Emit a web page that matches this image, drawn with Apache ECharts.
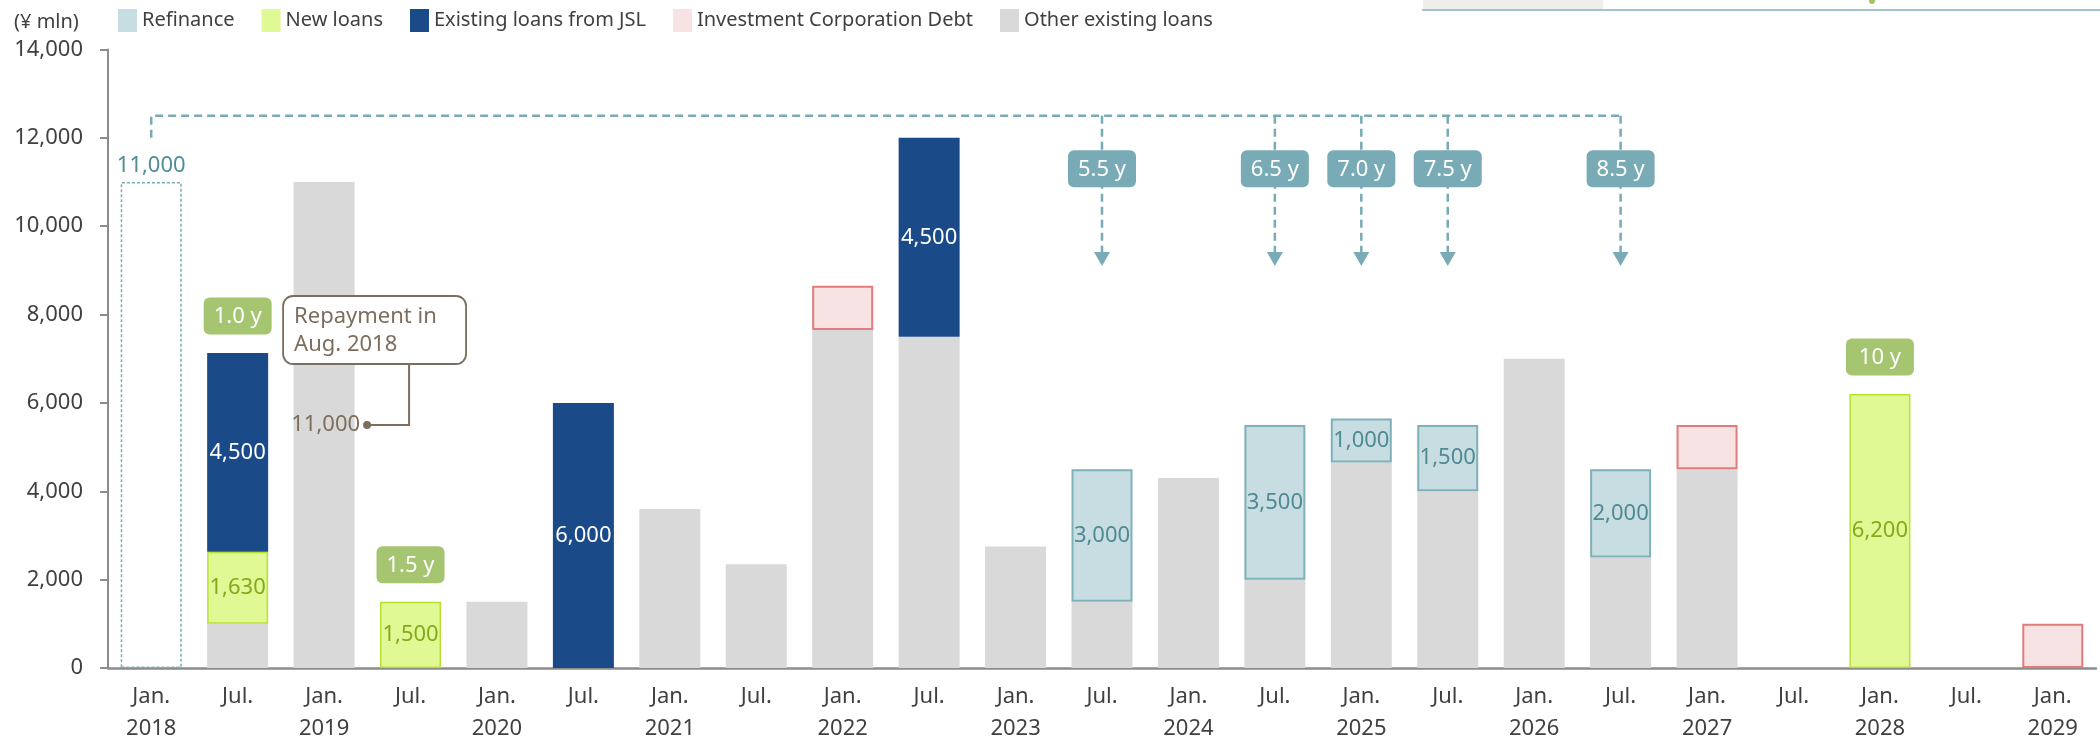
<!DOCTYPE html>
<html>
<head>
<meta charset="utf-8">
<script src="https://cdn.jsdelivr.net/npm/echarts/dist/echarts.min.js"></script>
<style>
  html, body { margin: 0; padding: 0; background: #fff; }
  #chart { width: 2100px; height: 745px; }
</style>
</head>
<body>
<div id="chart"></div>
<script>
// Debt maturity ladder (¥ mln), half-year buckets
const categories = [
  'Jan.\n2018', 'Jul.', 'Jan.\n2019', 'Jul.', 'Jan.\n2020', 'Jul.', 'Jan.\n2021', 'Jul.',
  'Jan.\n2022', 'Jul.', 'Jan.\n2023', 'Jul.', 'Jan.\n2024', 'Jul.', 'Jan.\n2025', 'Jul.',
  'Jan.\n2026', 'Jul.', 'Jan.\n2027', 'Jul.', 'Jan.\n2028', 'Jul.', 'Jan.\n2029'
];
const repaidAug2018 = [11000, null, null, null, null, null, null, null, null, null, null, null,
  null, null, null, null, null, null, null, null, null, null, null];
const otherLoans = [null, 1000, 11000, null, 1500, null, 3600, 2350, 7650, 7500, 2750, 1500,
  4300, 2000, 4650, 4000, 7000, 2500, 4500, null, null, null, null];
const newLoans = [null, 1630, null, 1500, null, null, null, null, null, null, null, null,
  null, null, null, null, null, null, null, null, 6200, null, null];
const jslLoans = [null, 4500, null, null, null, 6000, null, null, null, 4500, null, null,
  null, null, null, null, null, null, null, null, null, null, null];
const refinance = [null, null, null, null, null, null, null, null, null, null, null, 3000,
  null, 3500, 1000, 1500, null, 2000, null, null, null, null, null];
const corpDebt = [null, null, null, null, null, null, null, null, 1000, null, null, null,
  null, null, null, null, null, null, 1000, null, null, null, 1000];
const yTicks = { min: 0, max: 14000, step: 2000 };

// Loan terms: new borrowings and refinanced tranches
const newLoanTerms = [[1, '1.0 y'], [3, '1.5 y'], [20, '10 y']];
const refinanceTerms = [[11, '5.5 y'], [13, '6.5 y'], [14, '7.0 y'], [15, '7.5 y'], [17, '8.5 y']];
const repaymentNote = 'Repayment in\nAug. 2018';

const FONT = '"Noto Sans", "DejaVu Sans", sans-serif';
const TEAL = '#78abb6';
const GREEN_BADGE = '#a5c571';
const BROWN = '#7d6d5d';
const fmt = v => Number(v).toLocaleString('en-US');

const labelInside = color => ({
  show: true, position: 'inside', color, fontSize: 22, fontFamily: FONT,
  formatter: p => (p.value == null ? '' : fmt(p.value))
});

const option = {
  animation: false,
  backgroundColor: '#ffffff',
  textStyle: { fontFamily: FONT },
  title: {
    text: '(¥ mln)', left: 9, top: 7,
    textStyle: { fontSize: 20, fontWeight: 'normal', color: '#404040', fontFamily: FONT }
  },
  legend: {
    left: 118, top: 9, padding: 0, itemGap: 27, itemWidth: 19, itemHeight: 23,
    icon: 'rect',
    itemStyle: { borderWidth: 0 },
    textStyle: { fontSize: 20, color: '#404040', fontFamily: FONT },
    data: ['Refinance', 'New loans', 'Existing loans from JSL', 'Investment Corporation Debt', 'Other existing loans']
  },
  grid: { left: 108, right: 4, top: 49.5, bottom: 74, containLabel: false },
  xAxis: {
    type: 'category', data: categories,
    axisLine: { lineStyle: { color: '#8c8c8c', width: 2.5 } },
    axisTick: { show: false },
    axisLabel: { interval: 0, fontSize: 22, color: '#404040', margin: 13, lineHeight: 32, fontFamily: FONT }
  },
  yAxis: {
    type: 'value', min: yTicks.min, max: yTicks.max, interval: yTicks.step,
    axisLine: { show: true, lineStyle: { color: '#8c8c8c', width: 2 } },
    axisTick: { show: true, length: 8, lineStyle: { color: '#8c8c8c', width: 2 } },
    splitLine: { show: false },
    axisLabel: { fontSize: 22, color: '#404040', margin: 25, fontFamily: FONT, formatter: v => fmt(v) }
  },
  series: [
    {
      name: 'Other existing loans', type: 'bar', stack: 'total', barWidth: 61,
      data: otherLoans, itemStyle: { color: '#d9d9d9' }
    },
    {
      name: 'New loans', type: 'bar', stack: 'total', barWidth: 61,
      data: newLoans, itemStyle: { color: '#e0f994', borderColor: '#b8e033', borderWidth: 1.5 },
      label: labelInside('#86a91c')
    },
    {
      name: 'Existing loans from JSL', type: 'bar', stack: 'total', barWidth: 61,
      data: jslLoans, itemStyle: { color: '#1b4a89' },
      label: labelInside('#ffffff')
    },
    {
      name: 'Refinance', type: 'bar', stack: 'total', barWidth: 61,
      data: refinance, itemStyle: { color: '#c8dde1', borderColor: '#7fb1ba', borderWidth: 2 },
      label: labelInside('#4d8a94')
    },
    {
      name: 'Investment Corporation Debt', type: 'bar', stack: 'total', barWidth: 61,
      data: corpDebt, itemStyle: { color: '#f7e3e3', borderColor: '#e47b7b', borderWidth: 2 }
    },
    {
      name: 'Repaid Aug. 2018', type: 'bar', stack: 'total', barWidth: 58,
      data: repaidAug2018,
      itemStyle: { color: 'rgba(0,0,0,0)', borderColor: TEAL, borderWidth: 1.5, borderType: [3, 2] },
      label: {
        show: true, position: 'top', distance: 5, color: '#4e8d98', fontSize: 22, fontFamily: FONT,
        formatter: p => (p.value == null ? '' : fmt(p.value))
      }
    }
  ]
};

const chart = echarts.init(document.getElementById('chart'), null, { renderer: 'canvas' });
chart.setOption(option);

// ---- annotations placed through the grid's own coordinate system ----
const px = (i, v) => chart.convertToPixel({ gridIndex: 0 }, [i, v]);
const stackTop = i => [otherLoans, newLoans, jslLoans, refinance, corpDebt, repaidAug2018]
  .reduce((s, arr) => s + (arr[i] || 0), 0);

const g = [];
const badge = (cx, cy, text, fill) => {
  g.push({ type: 'rect', z: 20, shape: { x: cx - 34, y: cy - 18.5, width: 68, height: 37, r: 6 }, style: { fill } });
  g.push({ type: 'text', z: 21, style: { text, x: cx, y: cy + 1, fill: '#ffffff', font: '22px ' + FONT, align: 'center', verticalAlign: 'middle' } });
};
const dash = { stroke: TEAL, lineWidth: 2.5, lineDash: [8, 5] };

// bracket from the 2018 repayment to the refinanced tranches
const bracketLevel = 12500, bracketStart = 12000, arrowLevel = 9100, badgeLevel = 11300;
const lastRefi = refinanceTerms[refinanceTerms.length - 1][0];
const p0a = px(0, bracketStart), p0b = px(0, bracketLevel), p1 = px(lastRefi, bracketLevel);
g.push({ type: 'polyline', z: 10, shape: { points: [p0a, p0b, p1] }, style: Object.assign({ fill: null }, dash) });
refinanceTerms.forEach(([i, text]) => {
  const top = px(i, bracketLevel), tip = px(i, arrowLevel), mid = px(i, badgeLevel);
  g.push({ type: 'line', z: 10, shape: { x1: top[0], y1: top[1], x2: tip[0], y2: tip[1] - 12 }, style: dash });
  g.push({ type: 'polygon', z: 11, shape: { points: [[tip[0] - 8, tip[1] - 14], [tip[0] + 8, tip[1] - 14], [tip[0], tip[1]]] }, style: { fill: TEAL } });
  badge(mid[0], mid[1], text, TEAL);
});

// term badges above the new-loan bars
newLoanTerms.forEach(([i, text]) => {
  const p = px(i, stackTop(i));
  badge(p[0], p[1] - 37, text, GREEN_BADGE);
});

// callout on the Jan. 2019 bucket
const rp = px(2, otherLoans[2] / 2);
const dot = [rp[0] + 43, rp[1]];
g.push({ type: 'text', z: 21, style: { text: fmt(otherLoans[2]), x: dot[0] - 7, y: dot[1], fill: BROWN, font: '22px ' + FONT, align: 'right', verticalAlign: 'middle' } });
g.push({ type: 'circle', z: 21, shape: { cx: dot[0], cy: dot[1], r: 4 }, style: { fill: BROWN } });
g.push({ type: 'polyline', z: 20, shape: { points: [dot, [dot[0] + 42, dot[1]], [dot[0] + 42, dot[1] - 61]] }, style: { stroke: BROWN, lineWidth: 2, fill: null } });
g.push({ type: 'rect', z: 20, shape: { x: dot[0] - 84, y: dot[1] - 129, width: 183, height: 68, r: 10 }, style: { fill: '#ffffff', stroke: BROWN, lineWidth: 1.8 } });
g.push({ type: 'text', z: 21, style: { text: repaymentNote, x: dot[0] - 73, y: dot[1] - 94, fill: BROWN, font: '22px ' + FONT, lineHeight: 28, align: 'left', verticalAlign: 'middle' } });

// page header strip at the top right
g.push({ type: 'rect', z: 1, shape: { x: 1423, y: 0, width: 180, height: 9 }, style: { fill: '#efeeea' } });
g.push({ type: 'line', z: 2, shape: { x1: 1422, y1: 10, x2: 2100, y2: 10 }, style: { stroke: '#a0c6cd', lineWidth: 2 } });
g.push({ type: 'circle', z: 2, shape: { cx: 1872, cy: 1, r: 3 }, style: { fill: '#9ec65c' } });

chart.setOption({ graphic: { elements: g } });
</script>
</body>
</html>
